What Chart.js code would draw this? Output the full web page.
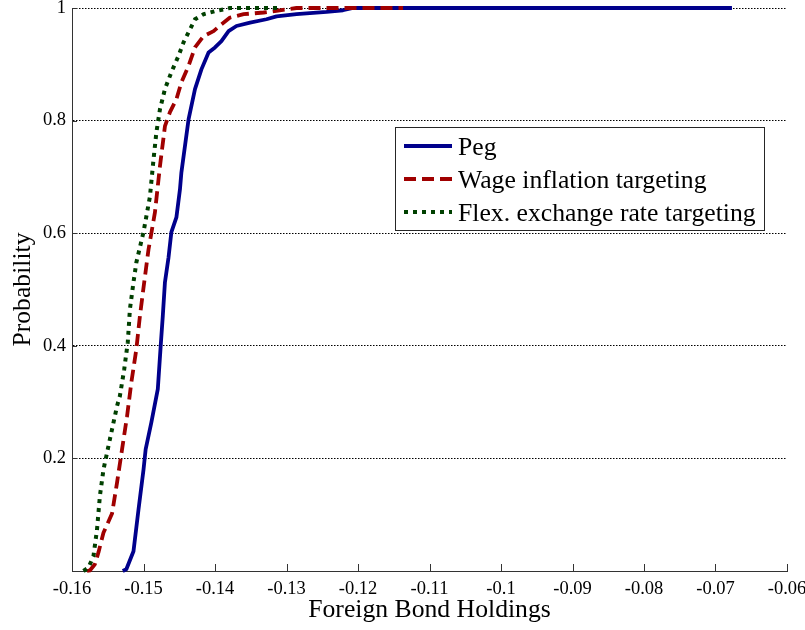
<!DOCTYPE html>
<html>
<head>
<meta charset="utf-8">
<script src="https://cdn.jsdelivr.net/npm/chart.js@4/dist/chart.umd.min.js"></script>
<style>
  html, body { margin: 0; padding: 0; background: #fff; }
  #wrap { width: 805px; height: 630px; }
</style>
</head>
<body>
<div id="wrap"><canvas id="c" width="805" height="630"></canvas></div>
<script>
// Tick positions
const xTicks = [-0.16, -0.15, -0.14, -0.13, -0.12, -0.11, -0.10, -0.09, -0.08, -0.07, -0.06];
const yTicks = [0.2, 0.4, 0.6, 0.8, 1];

// Series names
const seriesNames = ['Peg', 'Wage inflation targeting', 'Flex. exchange rate targeting'];

// Cumulative probability of foreign bond holdings, per regime
const pegX = [-0.1529, -0.1524, -0.1514, -0.1507, -0.1500, -0.1497, -0.1489, -0.1480, -0.1476, -0.1473,
              -0.1470, -0.1465, -0.1461, -0.1454, -0.1449, -0.1447, -0.1437, -0.1428, -0.1419, -0.1409,
              -0.1400, -0.1391, -0.1381, -0.1370, -0.1351, -0.1328, -0.1314, -0.1286, -0.1244, -0.1221,
              -0.1207, -0.0677];
const pegY = [0, 0.003, 0.035, 0.109, 0.180, 0.216, 0.264, 0.323, 0.399, 0.453,
              0.513, 0.557, 0.602, 0.628, 0.678, 0.708, 0.802, 0.856, 0.891, 0.921,
              0.930, 0.941, 0.959, 0.968, 0.974, 0.980, 0.985, 0.989, 0.993, 0.996,
              1, 1];

const wageX = [-0.1579, -0.1575, -0.1568, -0.1563, -0.1556, -0.1544, -0.1537, -0.1530, -0.1523, -0.1517,
               -0.1510, -0.1505, -0.1499, -0.1493, -0.1484, -0.1477, -0.1470, -0.1463, -0.1454, -0.1447,
               -0.1437, -0.1428, -0.1416, -0.1402, -0.1391, -0.1379, -0.1360, -0.1332, -0.1314, -0.1286,
               -0.1137];
const wageY = [0, 0.001, 0.012, 0.033, 0.068, 0.102, 0.157, 0.216, 0.275, 0.335,
               0.394, 0.453, 0.513, 0.571, 0.637, 0.719, 0.790, 0.815, 0.838, 0.868,
               0.897, 0.930, 0.950, 0.959, 0.971, 0.983, 0.989, 0.992, 0.995, 1,
               1];

const flexX = [-0.1584, -0.1577, -0.1570, -0.1565, -0.1561, -0.1556, -0.1547, -0.1537, -0.1533, -0.1527,
               -0.1522, -0.1519, -0.1514, -0.1510, -0.1500, -0.1491, -0.1486, -0.1482, -0.1477, -0.1470,
               -0.1461, -0.1451, -0.1444, -0.1435, -0.1428, -0.1416, -0.1398, -0.1379, -0.1313];
const flexY = [0, 0.006, 0.026, 0.074, 0.133, 0.180, 0.234, 0.293, 0.311, 0.358,
               0.406, 0.465, 0.513, 0.548, 0.602, 0.665, 0.731, 0.779, 0.820, 0.856,
               0.886, 0.915, 0.939, 0.962, 0.980, 0.989, 0.995, 1, 1];

const zip = (xs, ys) => xs.map((x, i) => ({ x: x, y: ys[i] }));

const SERIF = '"Liberation Serif", "Times New Roman", serif';
const AXIS_COLOR = '#333333';
const LABEL_SIZE = 25.7;

const fmt = v => String(parseFloat(Number(v).toFixed(2)));

// Short inward tick marks on the left and bottom axes
const inwardTicks = {
  id: 'inwardTicks',
  beforeDatasetsDraw(chart) {
    const { ctx, chartArea, scales } = chart;
    ctx.save();
    ctx.strokeStyle = AXIS_COLOR;
    ctx.lineWidth = 1;
    ctx.setLineDash([]);
    ctx.beginPath();
    scales.x.ticks.forEach(t => {
      const px = Math.round(scales.x.getPixelForValue(t.value)) + 0.5;
      ctx.moveTo(px, chartArea.bottom);
      ctx.lineTo(px, chartArea.bottom - 7);
    });
    scales.y.ticks.forEach(t => {
      const py = Math.round(scales.y.getPixelForValue(t.value)) + 0.5;
      ctx.moveTo(chartArea.left, py);
      ctx.lineTo(chartArea.left + 5, py);
    });
    ctx.stroke();
    ctx.restore();
  }
};

// Boxed legend inside the plot
const boxedLegend = {
  id: 'boxedLegend',
  afterDraw(chart) {
    const { ctx } = chart;
    const box = { left: 395.5, top: 127.5, right: 764.5, bottom: 230.5 };
    const lineX0 = 404, lineX1 = 452, textX = 458, baseline0 = 155, rowGap = 33;
    ctx.save();
    ctx.fillStyle = '#ffffff';
    ctx.fillRect(box.left, box.top, box.right - box.left, box.bottom - box.top);
    ctx.strokeStyle = '#262626';
    ctx.lineWidth = 1;
    ctx.setLineDash([]);
    ctx.strokeRect(box.left, box.top, box.right - box.left, box.bottom - box.top);
    ctx.font = LABEL_SIZE + 'px ' + SERIF;
    ctx.textBaseline = 'alphabetic';
    ctx.textAlign = 'left';
    chart.data.datasets.forEach((ds, i) => {
      const yb = baseline0 + i * rowGap;
      const ym = yb - 9;
      ctx.strokeStyle = ds.borderColor;
      ctx.lineWidth = ds.borderWidth;
      ctx.lineCap = 'butt';
      ctx.setLineDash(ds.borderDash || []);
      ctx.beginPath();
      ctx.moveTo(lineX0, ym);
      ctx.lineTo(lineX1, ym);
      ctx.stroke();
      ctx.setLineDash([]);
      ctx.fillStyle = '#000000';
      ctx.fillText(ds.label, textX, yb);
    });
    ctx.restore();
  }
};

new Chart(document.getElementById('c'), {
  type: 'line',
  data: {
    datasets: [
      {
        label: seriesNames[0],
        data: zip(pegX, pegY),
        borderColor: '#00008C',
        borderWidth: 3.8,
        borderDash: [],
        order: 3
      },
      {
        label: seriesNames[1],
        data: zip(wageX, wageY),
        borderColor: '#A00000',
        borderWidth: 3.8,
        borderDash: [12, 6],
        order: 2
      },
      {
        label: seriesNames[2],
        data: zip(flexX, flexY),
        borderColor: '#004000',
        borderWidth: 4,
        borderDash: [4, 5],
        order: 1
      }
    ].map(ds => Object.assign(ds, {
      pointRadius: 0,
      pointHoverRadius: 0,
      tension: 0,
      fill: false,
      clip: false,
      borderCapStyle: 'butt',
      borderJoinStyle: 'round'
    }))
  },
  options: {
    responsive: false,
    devicePixelRatio: 1,
    animation: false,
    events: [],
    layout: { padding: { left: 0, right: 18, top: 8, bottom: 0 } },
    plugins: {
      legend: { display: false },
      tooltip: { enabled: false }
    },
    scales: {
      x: {
        type: 'linear',
        min: -0.16,
        max: -0.06,
        afterBuildTicks: s => { s.ticks = xTicks.map(v => ({ value: v })); },
        afterFit: s => { s.height = 59; s.paddingLeft = 0; s.paddingRight = 0; },
        grid: { display: false, drawTicks: false },
        border: { display: true, color: AXIS_COLOR, width: 1 },
        ticks: {
          color: '#000',
          font: { family: SERIF, size: 18.5 },
          padding: 7,
          maxRotation: 0,
          autoSkip: false,
          callback: v => fmt(v)
        },
        title: {
          display: true,
          text: 'Foreign Bond Holdings',
          color: '#000',
          font: { family: SERIF, size: LABEL_SIZE },
          padding: { top: 0, bottom: 4 }
        }
      },
      y: {
        type: 'linear',
        min: 0,
        max: 1,
        afterBuildTicks: s => { s.ticks = yTicks.map(v => ({ value: v })); },
        afterFit: s => { s.width = 72; s.paddingTop = 0; s.paddingBottom = 0; },
        grid: {
          display: true,
          drawTicks: false,
          color: '#000000',
          lineWidth: 1
        },
        border: { display: true, color: AXIS_COLOR, width: 1, dash: [1.5, 1.5] },
        ticks: {
          color: '#000',
          font: { family: SERIF, size: 18.5 },
          padding: 6,
          autoSkip: false,
          callback: v => fmt(v)
        },
        title: {
          display: true,
          text: 'Probability',
          color: '#000',
          font: { family: SERIF, size: LABEL_SIZE },
          padding: { top: 8, bottom: 0 }
        }
      }
    }
  },
  plugins: [inwardTicks, boxedLegend]
});
</script>
</body>
</html>
